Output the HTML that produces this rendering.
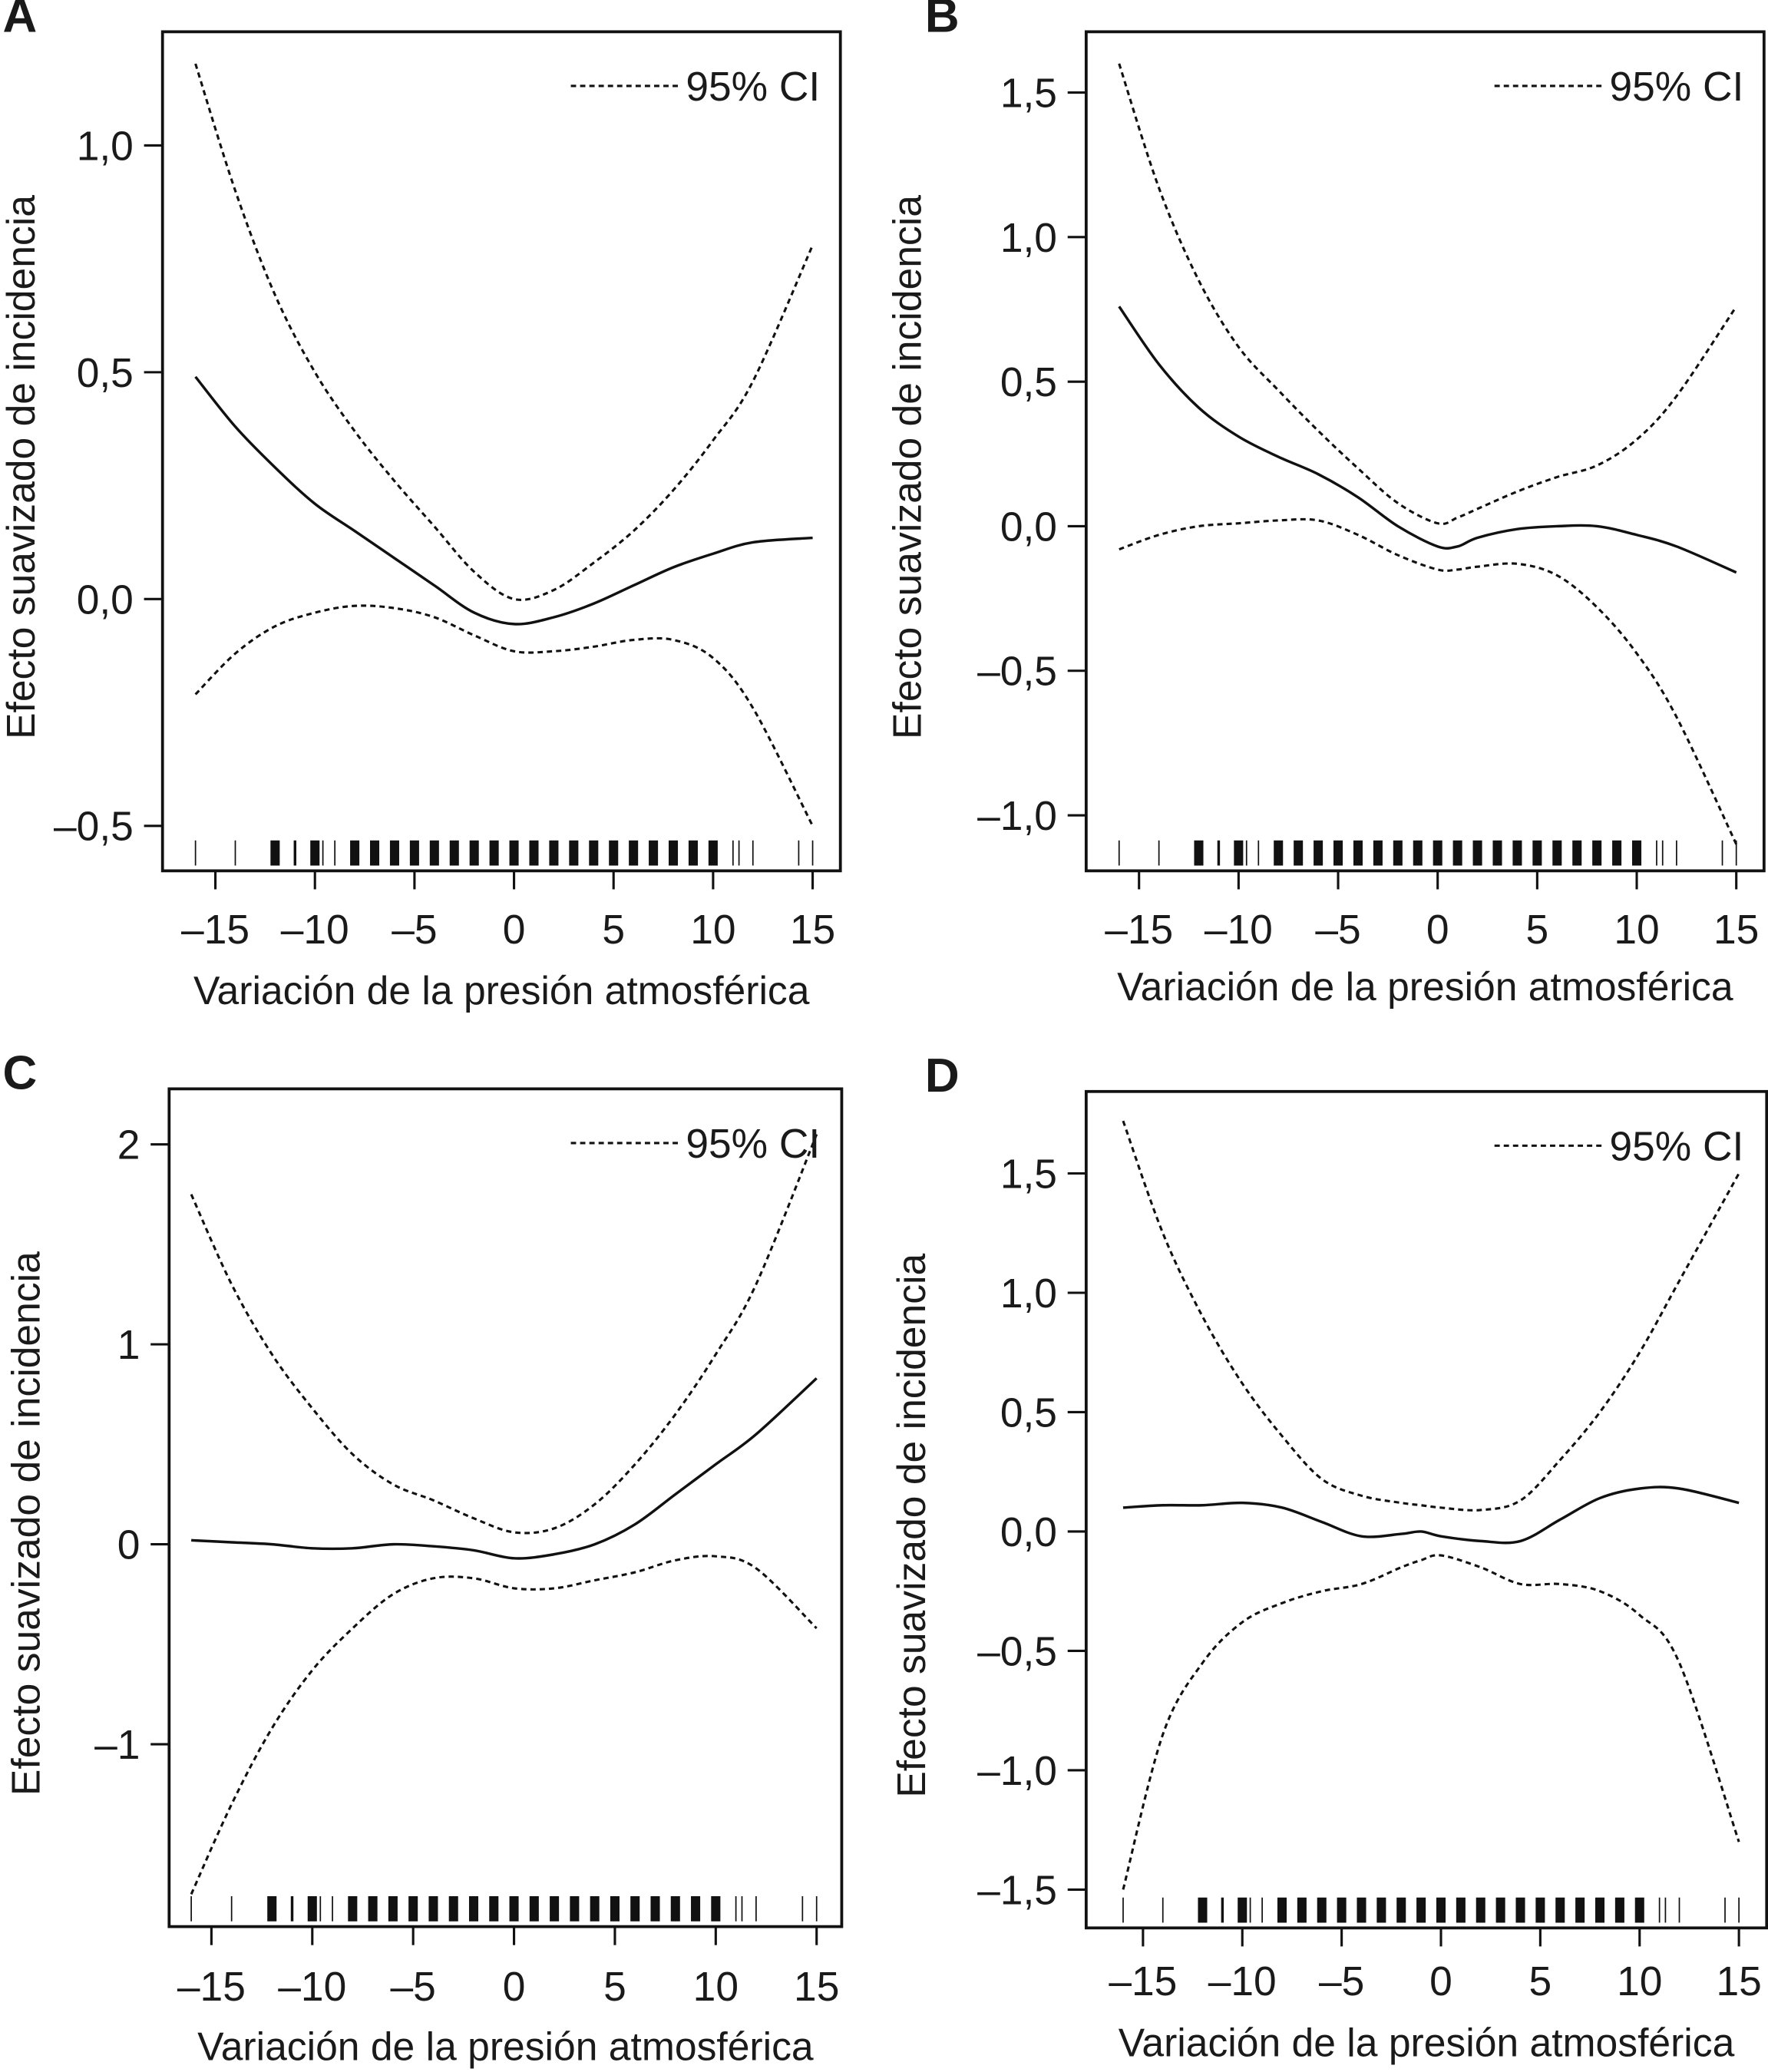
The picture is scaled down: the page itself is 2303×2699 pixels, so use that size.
<!DOCTYPE html>
<html><head><meta charset="utf-8"><style>
html,body{margin:0;padding:0;background:#fff;}
svg{display:block;}
text{font-family:"Liberation Sans",Arial,sans-serif;fill:#1a1a1a;}
</style></head>
<body>
<svg id="fig" width="2303" height="2699" viewBox="0 0 1338 1568" xmlns="http://www.w3.org/2000/svg"></svg>
<script>
// ---- data ----
const xTickValues = [-15, -10, -5, 0, 5, 10, 15];
const xTickLabels = ["\u201315", "\u201310", "\u20135", "0", "5", "10", "15"];

const aX = [-16,-14,-12,-10,-8,-6,-4,-2,0,2,4,6,8,10,12,15];
const aFit = [0.49,0.38,0.29,0.21,0.15,0.09,0.03,-0.03,-0.055,-0.04,-0.01,0.03,0.07,0.10,0.125,0.135];
const aUpper = [1.18,0.90,0.67,0.50,0.37,0.26,0.16,0.06,0.0,0.02,0.08,0.15,0.24,0.35,0.48,0.78];
const aLower = [-0.21,-0.12,-0.06,-0.03,-0.015,-0.02,-0.04,-0.08,-0.115,-0.115,-0.105,-0.09,-0.09,-0.13,-0.24,-0.50];
const aYTicks = [1.0, 0.5, 0.0, -0.5];
const aYLabels = ["1,0", "0,5", "0,0", "\u20130,5"];

const bX = [-16,-14,-12,-10,-8,-6,-4,-2,0,1,2,4,6,8,10,12,15];
const bFit = [0.76,0.56,0.41,0.31,0.24,0.18,0.10,0.0,-0.07,-0.07,-0.04,-0.01,0.0,0.0,-0.03,-0.07,-0.16];
const bUpper = [1.60,1.17,0.85,0.62,0.47,0.33,0.20,0.08,0.01,0.03,0.06,0.12,0.17,0.21,0.30,0.45,0.76];
const bLower = [-0.08,-0.03,0.0,0.01,0.02,0.02,-0.03,-0.10,-0.15,-0.15,-0.14,-0.13,-0.17,-0.28,-0.44,-0.66,-1.10];
const bYTicks = [1.5, 1.0, 0.5, 0.0, -0.5, -1.0];
const bYLabels = ["1,5", "1,0", "0,5", "0,0", "\u20130,5", "\u20131,0"];

const cX = [-16,-14,-12,-10,-8,-6,-4,-2,0,2,4,6,8,10,12,15];
const cFit = [0.02,0.01,0.0,-0.02,-0.02,0.0,-0.01,-0.03,-0.07,-0.05,0.0,0.10,0.25,0.40,0.55,0.83];
const cUpper = [1.75,1.30,0.95,0.68,0.45,0.30,0.22,0.13,0.06,0.08,0.20,0.40,0.65,0.95,1.30,2.05];
const cLower = [-1.75,-1.30,-0.92,-0.63,-0.42,-0.25,-0.17,-0.17,-0.22,-0.22,-0.18,-0.14,-0.08,-0.06,-0.12,-0.42];
const cYTicks = [2, 1, 0, -1];
const cYLabels = ["2", "1", "0", "\u20131"];

const dX = [-16,-14,-12,-10,-8,-6,-4,-2,-1,0,2,4,6,8,10,12,15];
const dFit = [0.10,0.11,0.11,0.12,0.10,0.04,-0.02,-0.01,0.0,-0.02,-0.04,-0.04,0.05,0.14,0.18,0.18,0.12];
const dUpper = [1.72,1.25,0.90,0.62,0.40,0.22,0.15,0.12,0.11,0.10,0.09,0.13,0.30,0.50,0.75,1.05,1.50];
const dLower = [-1.50,-0.85,-0.55,-0.38,-0.30,-0.25,-0.22,-0.15,-0.12,-0.10,-0.15,-0.22,-0.22,-0.25,-0.35,-0.55,-1.30];
const dYTicks = [1.5, 1.0, 0.5, 0.0, -0.5, -1.0, -1.5];
const dYLabels = ["1,5", "1,0", "0,5", "0,0", "\u20130,5", "\u20131,0", "\u20131,5"];

const rugThin = [-16,-14,-9.6,-9,11,11.3,12,14.3,15];
const rugThick = [-12,-11,-10,-8,-7,-6,-5,-4,-3,-2,-1,0,1,2,3,4,5,6,7,8,9,10];

// ---- layout (non-data) ----
const panels = [
 {id:'a', letter:'A', box:[123,24,636,659], xr:[163,615], yr:[aYTicks[0],110,aYTicks[3],625], X:aX, fit:aFit, up:aUpper, lo:aLower, yt:aYTicks, yl:aYLabels, tlY:714, ttlY:760, ytx:26, lx:0},
 {id:'b', letter:'B', box:[822,24,1335,659], xr:[862,1314], yr:[bYTicks[0],70,bYTicks[5],617], X:bX, fit:bFit, up:bUpper, lo:bLower, yt:bYTicks, yl:bYLabels, tlY:714, ttlY:757, ytx:697, lx:0},
 {id:'c', letter:'C', box:[128,824,637,1458], xr:[160,618], yr:[cYTicks[0],866,cYTicks[3],1320], X:cX, fit:cFit, up:cUpper, lo:cLower, yt:cYTicks, yl:cYLabels, tlY:1514, ttlY:1559, ytx:30, lx:-5},
 {id:'d', letter:'D', box:[822,826,1337,1459], xr:[865,1316], yr:[dYTicks[0],888,dYTicks[6],1430], X:dX, fit:dFit, up:dUpper, lo:dLower, yt:dYTicks, yl:dYLabels, tlY:1510, ttlY:1556, ytx:700, lx:0}
];
const NS='http://www.w3.org/2000/svg';
const svg=document.getElementById('fig');
function mk(tag, attrs, parent){const e=document.createElementNS(NS,tag);for(const k in attrs)e.setAttribute(k,attrs[k]);(parent||svg).appendChild(e);return e;}
function smoothPath(pts){
  let d='M'+pts[0][0].toFixed(2)+','+pts[0][1].toFixed(2);
  for(let i=0;i<pts.length-1;i++){
    const p0=pts[i-1]||pts[i],p1=pts[i],p2=pts[i+1],p3=pts[i+2]||p2;
    const c1=[p1[0]+(p2[0]-p0[0])/6,p1[1]+(p2[1]-p0[1])/6];
    const c2=[p2[0]-(p3[0]-p1[0])/6,p2[1]-(p3[1]-p1[1])/6];
    d+=' C'+c1.join(',')+' '+c2.join(',')+' '+p2.join(',');
  }
  return d;
}
panels.forEach(p=>{
  const g=mk('g',{});
  
  
  const [L,T,R,B]=p.box;
  const xs=v=>p.xr[0]+(v+15)*(p.xr[1]-p.xr[0])/30;
  const ys=v=>p.yr[1]+(v-p.yr[0])*(p.yr[3]-p.yr[1])/(p.yr[2]-p.yr[0]);
  const box=mk('rect',{x:L,y:T,width:R-L,height:B-T,fill:'none',stroke:'#111','stroke-width':2.2},g);
   
  const lt=mk('text',{x:p.id==='a'||p.id==='c'?2:700,y:T,'font-size':36,'font-weight':'bold'},g);
  lt.textContent=p.letter;
   
  xTickValues.forEach((v,i)=>{
    const x=xs(v);
    const t=mk('line',{x1:x,x2:x,y1:B,y2:B+14,stroke:'#111','stroke-width':1.8},g);
     
    const tx=mk('text',{x:x,y:p.tlY,'font-size':31,'text-anchor':'middle'},g);
    tx.textContent=xTickLabels[i];
     
  });
  p.yt.forEach((v,i)=>{
    const y=ys(v);
    const t=mk('line',{x1:L-14,x2:L,y1:y,y2:y,stroke:'#111','stroke-width':1.8},g);
     
    const tx=mk('text',{x:L-22,y:y+11,'font-size':31,'text-anchor':'end'},g);
    tx.textContent=p.yl[i];
     
  });
  const xt=mk('text',{x:(L+R)/2,y:p.ttlY,'font-size':30,'text-anchor':'middle'},g);
  xt.textContent='Variación de la presión atmosférica';
   
  const cy=(T+B)/2+12;
  const yt=mk('text',{x:p.ytx,y:cy,'font-size':30,'text-anchor':'middle',transform:'rotate(-90 '+p.ytx+' '+cy+')'},g);
  yt.textContent='Efecto suavizado de incidencia';
   
  rugThin.forEach(v=>{
    const r=mk('line',{x1:xs(v),x2:xs(v),y1:B-23,y2:B-4,stroke:'#111','stroke-width':1},g);
     
  });
  rugThick.forEach(v=>{
    const r=mk('line',{x1:xs(v),x2:xs(v),y1:B-23,y2:B-4,stroke:'#111','stroke-width':(v===-11?2:7)},g);
     
  });
  const curve=(arr,dash,name)=>{
    const pts=p.X.map((x,i)=>[+xs(x).toFixed(2),+ys(arr[i]).toFixed(2)]);
    const a={d:smoothPath(pts),fill:'none',stroke:'#111','stroke-width':dash?1.8:2};
    if(dash)a['stroke-dasharray']='4,3';
    const e=mk('path',a,g);
     
  };
  curve(p.fit,false,'smooth-effect-line');
  curve(p.up,true,'ci-upper-line');
  curve(p.lo,true,'ci-lower-line');
  const lg=mk('g',{},g);
   
  const ll=mk('line',{x1:L+309+p.lx,x2:L+391+p.lx,y1:T+41,y2:T+41,stroke:'#111','stroke-width':1.8,'stroke-dasharray':'4,3'},lg);
   
  const ltx=mk('text',{x:L+396+p.lx,y:T+52,'font-size':31},lg);
  ltx.textContent='95% CI';
   
});
</script>
</body></html>
